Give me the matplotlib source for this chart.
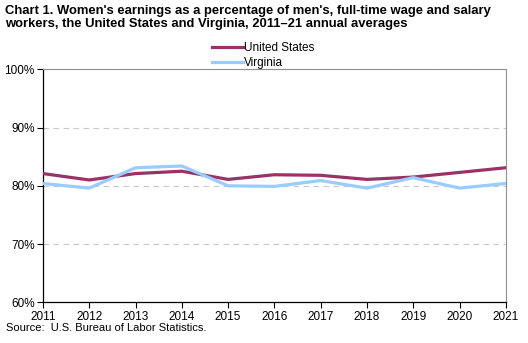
import matplotlib.pyplot as plt
from matplotlib.ticker import FuncFormatter

plt.rcParams['font.family'] = ['Liberation Sans', 'DejaVu Sans']

years = [2011, 2012, 2013, 2014, 2015, 2016, 2017, 2018, 2019, 2020, 2021]
us = [82.1, 81.0, 82.1, 82.5, 81.1, 81.9, 81.8, 81.1, 81.5, 82.3, 83.1]
virginia = [80.4, 79.6, 83.1, 83.4, 80.0, 79.9, 80.9, 79.6, 81.4, 79.6, 80.4]

fig = plt.figure(figsize=(5.28, 3.43), dpi=100)
ax = fig.add_axes([0.0814, 0.1186, 0.8766, 0.6794])

ax.plot(years, us, color='#993366', lw=2.3, label='United States', zorder=3)
ax.plot(years, virginia, color='#99ccff', lw=2.3, label='Virginia', zorder=3)

ax.set_xlim(2011, 2021)
ax.set_ylim(60, 100)
ax.set_xticks(years)
ax.set_yticks([60, 70, 80, 90, 100])
ax.yaxis.set_major_formatter(FuncFormatter(lambda v, p: f'{v:.0f}%'))
ax.tick_params(labelsize=8.5, length=4, width=0.8, color='black', pad=2)
ax.grid(axis='y', color='#c8c8c8', ls=(0, (5, 4)), lw=0.8)

for s in ['top', 'right']:
    ax.spines[s].set_color('#909090')
    ax.spines[s].set_linewidth(0.8)
for s in ['left', 'bottom']:
    ax.spines[s].set_color('black')
    ax.spines[s].set_linewidth(0.9)

fig.text(0.01, 0.985, "Chart 1. Women's earnings as a percentage of men's, full-time wage and salary\n"
         "workers, the United States and Virginia, 2011\u201321 annual averages",
         fontsize=9.4, fontweight='bold', va='top', ha='left', linespacing=1.05)

ax.legend(loc='lower left', bbox_to_anchor=(0.365, 1.002), frameon=False,
          fontsize=8.5, handlelength=2.6, handletextpad=0.1, labelspacing=0.2,
          borderpad=0, borderaxespad=0)

fig.text(0.012, 0.03, 'Source:  U.S. Bureau of Labor Statistics.', fontsize=8, ha='left', va='bottom')

fig.savefig('out.png', dpi=100)
